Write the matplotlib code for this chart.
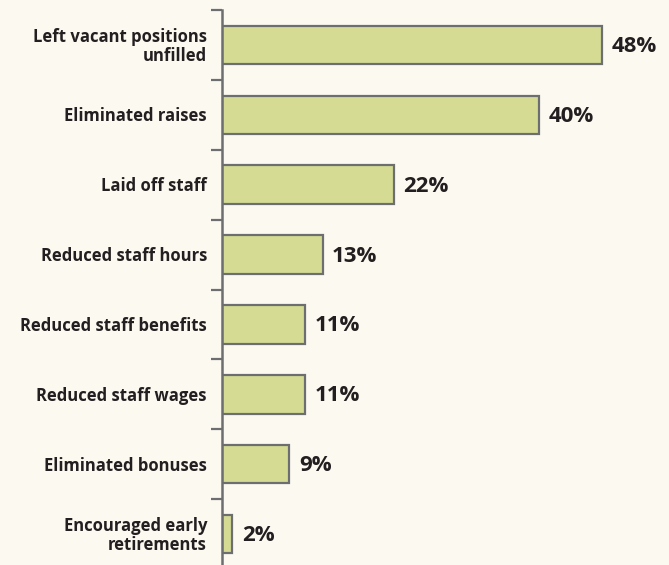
import matplotlib.pyplot as plt
from matplotlib.transforms import offset_copy

categories = [
    "Left vacant positions\nunfilled",
    "Eliminated raises",
    "Laid off staff",
    "Reduced staff hours",
    "Reduced staff benefits",
    "Reduced staff wages",
    "Eliminated bonuses",
    "Encouraged early\nretirements",
]
values = [48, 40, 21.7, 12.7, 10.5, 10.5, 8.5, 1.3]
pct_labels = ["48%", "40%", "22%", "13%", "11%", "11%", "9%", "2%"]

BG = "#fcf9f1"
BAR = "#d5db92"
EDGE = "#6d6e70"
TEXT = "#231f20"

plt.rcParams["font.family"] = ["Open Sans", "DejaVu Sans"]

fig = plt.figure(figsize=(6.69, 5.65), dpi=100, facecolor=BG)
W, H = 669, 565
ax_left, ax_top, ax_bottom = 222, 10, 569
ax = fig.add_axes([ax_left / W, (H - ax_bottom) / H, (W - ax_left) / W,
                   (ax_bottom - ax_top) / H])
ax.set_facecolor(BG)

y = [i + 0.5 for i in range(len(categories))]
ax.barh(y, values, height=0.55, color=BAR, edgecolor=EDGE, linewidth=1.6,
        zorder=2)

px_per_unit = 380 / 48
ax.set_xlim(0, (W - ax_left) / px_per_unit)
ax.set_ylim(len(categories), 0)

# nudge text a touch below the bar centre, as in the original
shifted = offset_copy(ax.transData, fig=fig, x=0, y=-1.5, units="dots")

for yi, v, lab in zip(y, values, pct_labels):
    ax.text(v + 1.2, yi, lab, va="center", ha="left", fontsize=16,
            fontweight="bold", color=TEXT, transform=shifted)

for yi, cat in zip(y, categories):
    ax.text(-15 / px_per_unit, yi, cat, va="center", ha="right", fontsize=12,
            fontweight="bold", color=TEXT, linespacing=1.05,
            transform=shifted, clip_on=False)

ax.set_yticks(range(len(categories)))
ax.set_yticklabels([])
ax.tick_params(axis="y", length=8, width=1.6, color=EDGE, direction="out")
ax.set_xticks([])
for s in ["top", "right", "bottom"]:
    ax.spines[s].set_visible(False)
ax.spines["left"].set_color(EDGE)
ax.spines["left"].set_linewidth(1.8)

fig.savefig("out.png", dpi=100, facecolor=BG)
